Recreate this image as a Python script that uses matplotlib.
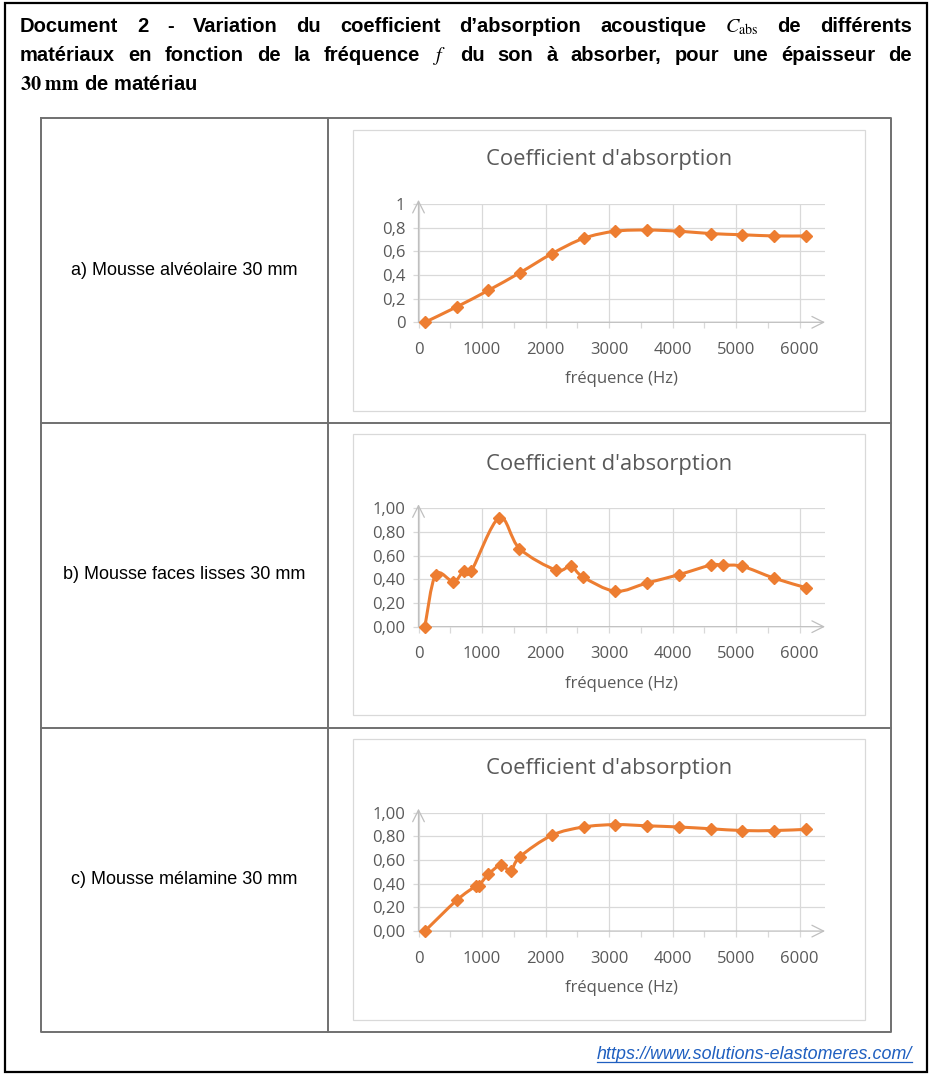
import numpy as np
import matplotlib.pyplot as plt
from matplotlib.path import Path
from matplotlib.patches import PathPatch, Rectangle


plt.rcParams['mathtext.fontset'] = 'stix'

# a) mousse alveolaire
freq_a = [100, 600, 1100, 1600, 2100, 2600, 3100, 3600, 4100, 4600, 5100, 5600, 6100]
cabs_a = [0.00, 0.13, 0.27, 0.42, 0.58, 0.71, 0.77, 0.78, 0.77, 0.75, 0.74, 0.73, 0.73]

# b) mousse faces lisses
freq_b = [100, 270, 550, 710, 830, 1270, 1590, 2160, 2400, 2590, 3100, 3600, 4100, 4600,
          4800, 5100, 5600, 6100]
cabs_b = [0.00, 0.44, 0.38, 0.47, 0.47, 0.92, 0.66, 0.48, 0.51, 0.42, 0.30, 0.37, 0.44, 0.52,
          0.52, 0.51, 0.41, 0.33]

# c) mousse melamine
freq_c = [100, 600, 900, 950, 1100, 1300, 1450, 1600, 2100, 2600, 3100, 3600, 4100, 4600,
          5100, 5600, 6100]
cabs_c = [0.00, 0.26, 0.38, 0.385, 0.48, 0.56, 0.51, 0.63, 0.81, 0.88, 0.90, 0.89, 0.88, 0.865,
          0.85, 0.85, 0.86]

labels = ["a) Mousse alvéolaire 30 mm", "b) Mousse faces lisses 30 mm", "c) Mousse mélamine 30 mm"]
x_ticks = [0, 1000, 2000, 3000, 4000, 5000, 6000]
y_ticks = [0, 0.2, 0.4, 0.6, 0.8, 1.0]
y_labels_a = ["0", "0,2", "0,4", "0,6", "0,8", "1"]
y_labels_bc = ["0,00", "0,20", "0,40", "0,60", "0,80", "1,00"]

W, H = 935, 1085
ORANGE = '#ED7D31'
GRID = '#D9D9D9'
TXT = '#595959'


def smooth_path(x, y):
    # excel-like smoothed line (cubic bezier through each point)
    p = np.column_stack([x, y]).astype(float)
    n = len(p)
    verts, codes = [p[0]], [Path.MOVETO]
    for i in range(n - 1):
        p0, p1, p2, p3 = p[max(i-1, 0)], p[i], p[i+1], p[min(i+2, n-1)]
        verts += [p1 + (p2 - p0)/6, p2 - (p3 - p1)/6, p2]
        codes += [Path.CURVE4]*3
    return Path(verts, codes)


def draw_chart(fig, bg, dy, freq, cabs, ylabels):
    # chart frame
    bg.add_patch(Rectangle((353, 130+dy), 512, 281, fill=False, ec=GRID, lw=0.9))
    bg.text(609, 160+dy, "Coefficient d'absorption", ha='center', va='center',
            fontsize=15.8, color=TXT, family='Open Sans')

    x0, x1, ytop, ybot = 418.5, 825, 204+dy, 322.3+dy
    ax = fig.add_axes([x0/W, 1-ybot/H, (x1-x0)/W, (ybot-ytop)/H])
    ax.set_facecolor('none')
    ax.set_xlim(0, 6400)
    ax.set_ylim(0, 1.0)
    for s in ax.spines.values():
        s.set_visible(False)
    ax.set_xticks(x_ticks)
    ax.set_xticks(np.arange(500, 6400, 1000), minor=True)
    ax.set_yticks(y_ticks)
    ax.set_yticklabels(ylabels)
    ax.grid(True, color=GRID, lw=0.9)
    ax.tick_params(axis='both', which='both', color=GRID, width=0.9, labelcolor=TXT, labelsize=12)
    ax.tick_params(axis='x', which='major', length=4.5, pad=9.5)
    ax.tick_params(axis='x', which='minor', length=4.5)
    ax.tick_params(axis='y', length=4, pad=5.5)
    for t in ax.get_xticklabels() + ax.get_yticklabels():
        t.set_family('Open Sans')

    arrow = dict(arrowstyle='->,head_length=0.7,head_width=0.35', color='#BFBFBF', lw=0.9,
                 shrinkA=0, shrinkB=0, mutation_scale=12)
    ax.annotate('', xy=(0, 1.035), xytext=(0, 0), arrowprops=arrow, annotation_clip=False)
    ax.annotate('', xy=(6400, 0), xytext=(0, 0), arrowprops=arrow, annotation_clip=False)

    ax.add_patch(PathPatch(smooth_path(freq, cabs), fill=False, ec=ORANGE, lw=2.2,
                           capstyle='round', joinstyle='round', zorder=3))
    ax.plot(freq, cabs, 'D', color=ORANGE, ms=6, zorder=4, clip_on=False)

    ax.text(0.5, -57/118.3, "fréquence (Hz)", transform=ax.transAxes, ha='center', va='center',
            fontsize=12, color=TXT, family='Open Sans')
    return ax


def justify(bg, renderer, words, x0, x1, y, **kw):
    texts = [bg.text(0, y, w, va='baseline', **kw) for w in words]
    widths = [t.get_window_extent(renderer).width for t in texts]
    gap = (x1 - x0 - sum(widths)) / (len(words) - 1)
    x = x0
    for t, w in zip(texts, widths):
        t.set_x(x)
        x += w + gap


fig = plt.figure(figsize=(W/100, H/100), dpi=100)
bg = fig.add_axes([0, 0, 1, 1])
bg.set_xlim(0, W)
bg.set_ylim(H, 0)
bg.axis('off')
renderer = fig.canvas.get_renderer()

# outer frame and table
bg.add_patch(Rectangle((5, 2.5), 922, 1069.5, fill=False, ec='black', lw=1.6))
tbl = dict(color='#707070', lw=1.4)
bg.plot([41, 891, 891, 41, 41], [118, 118, 1032, 1032, 118], **tbl)
bg.plot([328, 328], [118, 1032], **tbl)
bg.plot([41, 891], [423, 423], **tbl)
bg.plot([41, 891], [727.5, 727.5], **tbl)

# title
tkw = dict(fontsize=14.5, fontweight='bold', family='Liberation Sans')
line1 = ["Document", "2", "-", "Variation", "du", "coefficient", "d’absorption", "acoustique",
         r"$C_{\mathrm{abs}}$", "de", "différents"]
line2 = ["matériaux", "en", "fonction", "de", "la", "fréquence", r"$f$", "du", "son", "à",
         "absorber,", "pour", "une", "épaisseur", "de"]
justify(bg, renderer, line1, 20, 912, 32, **tkw)
justify(bg, renderer, line2, 20, 912, 61, **tkw)
bg.text(20, 90, r"$\mathbf{30\ mm}$ de matériau", va='baseline', **tkw)

# charts
data = [(freq_a, cabs_a, y_labels_a), (freq_b, cabs_b, y_labels_bc), (freq_c, cabs_c, y_labels_bc)]
for i, (f, c, yl) in enumerate(data):
    dy = 304.4 * i
    bg.text(184.5, 270.5 + dy, labels[i], ha='center', va='center', fontsize=13,
            family='Liberation Sans')
    draw_chart(fig, bg, dy, f, c, yl)

# source link (underlined)
link = bg.text(912, 1059, "https://www.solutions-elastomeres.com/", ha='right', va='baseline',
               fontsize=12.9, style='italic', color='#1F5FC0', family='Liberation Sans')
bb = link.get_window_extent(renderer)
bg.plot([912 - bb.width, 912], [1062, 1062], color='#1F5FC0', lw=0.9)

fig.savefig('out.png', dpi=100)
